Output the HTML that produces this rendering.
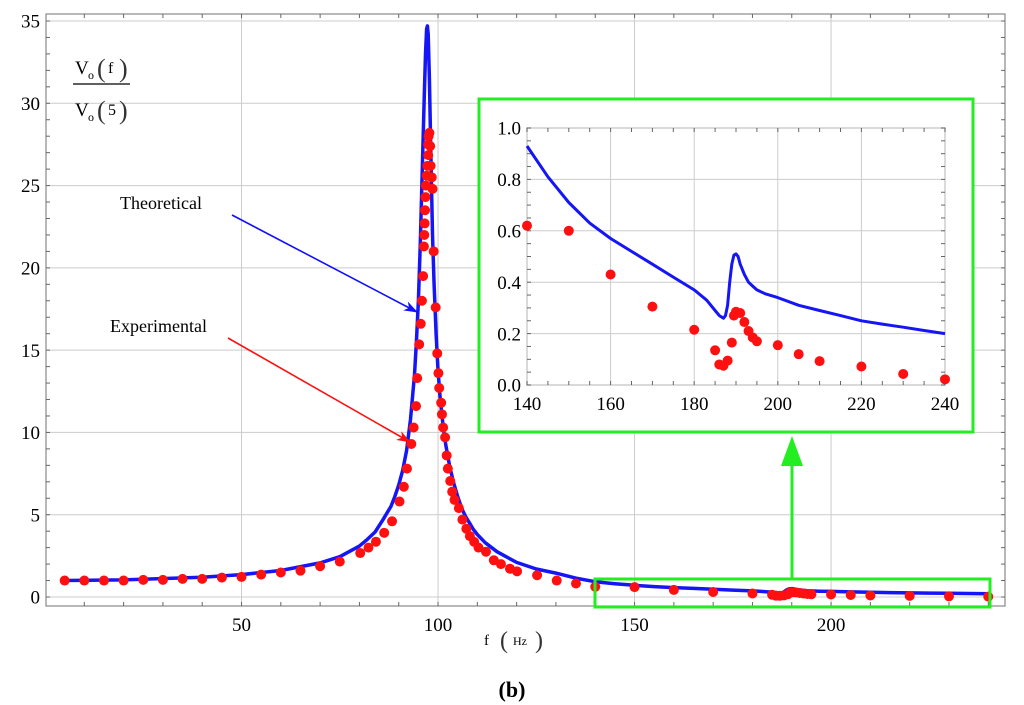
<!DOCTYPE html>
<html><head><meta charset="utf-8"><style>
body{margin:0;background:#fff}
svg{display:block;font-family:"Liberation Serif",serif}
</style></head><body>
<svg id="c" width="1024" height="705" viewBox="0 0 1024 705">
<defs>
<marker id="ab" markerWidth="14" markerHeight="10" refX="13" refY="5" orient="auto" markerUnits="userSpaceOnUse" viewBox="0 0 14 10"><path d="M0,0 L14,5 L0,10 L4,5z" fill="#1010ff"/></marker>
<marker id="ar" markerWidth="14" markerHeight="10" refX="13" refY="5" orient="auto" markerUnits="userSpaceOnUse" viewBox="0 0 14 10"><path d="M0,0 L14,5 L0,10 L4,5z" fill="#ff1010"/></marker>
</defs>
<g id="main"></g>
<g id="inset"></g>
<text x="120" y="209" font-size="18">Theoretical</text>
<line x1="232" y1="215" x2="417" y2="312" stroke="#1010ff" stroke-width="1.6" marker-end="url(#ab)"/>
<text x="110" y="332" font-size="18">Experimental</text>
<line x1="228" y1="338" x2="410" y2="442" stroke="#ff1010" stroke-width="1.6" marker-end="url(#ar)"/>
<g font-size="19">
<text x="75" y="74">V</text><text x="88" y="79" font-size="12">o</text><text x="97" y="77" font-size="26" fill="#333">(</text><text x="108" y="73" font-size="16">f</text><text x="119" y="77" font-size="26" fill="#333">)</text>
<line x1="73" y1="84" x2="130" y2="84" stroke="#000" stroke-width="1.3"/>
<text x="75" y="116">V</text><text x="88" y="121" font-size="12">o</text><text x="97" y="119" font-size="26" fill="#333">(</text><text x="108" y="115" font-size="16">5</text><text x="119" y="119" font-size="26" fill="#333">)</text>
</g>
<g>
<text x="484" y="645" font-size="15">f</text><text x="500" y="648" font-size="24" fill="#333">(</text><text x="513" y="645" font-size="12">Hz</text><text x="535" y="648" font-size="24" fill="#333">)</text>
</g>
<text x="512" y="697" font-size="22" font-weight="bold" text-anchor="middle">(b)</text>
<rect x="595" y="579" width="395" height="28" fill="none" stroke="#22ee22" stroke-width="3"/>
<line x1="792" y1="578" x2="792" y2="462" stroke="#22ee22" stroke-width="3"/>
<polygon points="792,436 781,466 803,466" fill="#22ee22"/>
</svg>
<script>
// Main chart data
const thF=[5,20,40,50,60,70,75,80,82,84,86,87,88,89,90,91,92,93,94,94.5,95,95.5,96,96.5,96.8,97.1,97.3,97.5,97.8,98.2,98.6,99,99.5,100,100.5,101,101.5,102,103,104,105,106,107,108,109,110,112,115,120,125,130,135,140,145,150,155,160,165,170,175,180,183,185,186,187,187.5,188,188.5,189,189.5,190,190.5,191,192,193,194,195,197,200,205,210,215,220,225,230,235,240];
const thV=[1.0,1.04,1.2,1.36,1.61,2.07,2.45,3.09,3.5,3.95,4.7,5.1,5.5,6.1,6.8,7.7,8.9,10.8,13.5,15.5,18,21.5,26,30.5,33,34.5,34.7,34.2,31.5,26.5,22,19,16,13.8,12.2,11,10,9.2,7.9,6.9,6.1,5.4,4.9,4.5,4.1,3.8,3.3,2.75,2.1,1.7,1.45,1.15,0.93,0.81,0.71,0.63,0.57,0.52,0.47,0.42,0.37,0.33,0.29,0.27,0.26,0.27,0.31,0.4,0.47,0.505,0.51,0.5,0.47,0.43,0.4,0.385,0.37,0.355,0.34,0.31,0.29,0.27,0.25,0.237,0.225,0.212,0.2];
const exF=[5,10,15,20,25,30,35,40,45,50,55,60,65,70,75,80.2,82.3,84.2,86.3,88.3,90.2,91.3,92.1,93.2,93.8,94.4,94.7,95.2,95.6,95.9,96.2,96.4,96.5,96.6,96.7,96.8,96.9,97.1,97.3,97.5,97.5,97.6,97.8,98.0,98.1,98.4,98.6,98.9,99.4,99.8,100.1,100.3,100.8,101,101.3,101.8,102.2,102.5,103.1,103.6,104.2,105.3,106.2,107.2,108.1,109.2,110.3,112.2,114.2,116,118.3,120.1,125.2,130.2,135.1,140,150,160,170,180,185,186,187,188,189,189.5,190,191,192,193,194,195,200,205,210,220,230,240];
const exV=[1.0,1.0,1.0,1.0,1.04,1.04,1.1,1.1,1.18,1.22,1.36,1.49,1.6,1.87,2.15,2.67,3.0,3.36,3.9,4.6,5.8,6.7,7.8,9.3,10.3,11.6,13.3,15.35,16.6,18.0,19.5,21.3,22.0,22.7,23.5,24.3,25.0,25.6,26.2,26.85,27.5,28.0,28.2,27.4,26.2,25.5,24.8,21.0,17.6,14.8,13.6,12.7,11.8,11.1,10.3,9.7,8.6,7.8,7.05,6.4,5.9,5.4,4.7,4.15,3.7,3.35,3.0,2.75,2.23,2.0,1.72,1.56,1.32,1.0,0.82,0.62,0.6,0.43,0.305,0.215,0.135,0.08,0.075,0.095,0.165,0.27,0.285,0.28,0.245,0.21,0.185,0.17,0.155,0.12,0.093,0.072,0.043,0.022,0.012];
const xTicks=[50,100,150,200];
const yTicks=[0,5,10,15,20,25,30,35];
const inXTicks=[140,160,180,200,220,240];
const inYTicks=[0,0.2,0.4,0.6,0.8,1.0];
const inYLabels=["0.0","0.2","0.4","0.6","0.8","1.0"];

const NS="http://www.w3.org/2000/svg";
function mk(p,t,a){const e=document.createElementNS(NS,t);for(const k in a)e.setAttribute(k,a[k]);p.appendChild(e);return e;}
function build(g,o){
  const X=v=>o.x0+(v-o.fmin)*(o.x1-o.x0)/(o.fmax-o.fmin);
  const Y=v=>o.y0+(v-o.vmin)*(o.y1-o.y0)/(o.vmax-o.vmin);
  mk(g,'rect',{x:o.L,y:o.T,width:o.R-o.L,height:o.B-o.T,fill:'#fff',stroke:'#888','stroke-width':1.2});
  for(let i=0;i<o.xt.length;i++){const l=mk(g,'line',{x1:X(o.xt[i]),x2:X(o.xt[i]),y1:o.T,y2:o.B,stroke:'#ccc','stroke-width':1});
    
    const t=mk(g,'text',{x:X(o.xt[i]),y:o.B+o.fs+6,'font-size':o.fs,'text-anchor':'middle'});t.textContent=o.xt[i];
    }
  for(let i=0;i<o.yt.length;i++){const y=Y(o.yt[i]);
    const l=mk(g,'line',{x1:o.L,x2:o.R,y1:y,y2:y,stroke:'#ccc','stroke-width':1});
    
    const t=mk(g,'text',{x:o.L-6,y:y+o.fs*0.35,'font-size':o.fs,'text-anchor':'end'});t.textContent=o.yl[i];
    }
  for(let v=o.fmin0;v<=o.fmax+0.01;v+=o.xm){mk(g,'line',{x1:X(v),x2:X(v),y1:o.B,y2:o.B-4,stroke:'#666'});mk(g,'line',{x1:X(v),x2:X(v),y1:o.T,y2:o.T+4,stroke:'#666'});}
  for(let v=o.vmin;v<=o.vmax+0.001;v+=o.ym){mk(g,'line',{x1:o.L,x2:o.L+4,y1:Y(v),y2:Y(v),stroke:'#666'});mk(g,'line',{x1:o.R,x2:o.R-4,y1:Y(v),y2:Y(v),stroke:'#666'});}
  let d='';thF.forEach((f,i)=>{if(f<o.fmin-0.01||f>o.fmax+0.01)return;d+=(d?'L':'M')+X(f).toFixed(1)+','+Y(thV[i]).toFixed(1);});
  const p=mk(g,'path',{d:d,fill:'none',stroke:'#1515f5','stroke-width':o.lw,'stroke-linejoin':'round'});
  
  exF.forEach((f,i)=>{if(f<o.fmin-0.01||f>o.fmax+0.01)return;
    const c=mk(g,'circle',{cx:X(f),cy:Y(exV[i]),r:o.r,fill:'#ff1010'});
    });
}
const gm=document.getElementById('main');

build(gm,{L:46,R:1005,T:14,B:606,x0:45,x1:1004,fmin:0,fmax:244,y0:597,y1:21,vmin:0,vmax:35,xt:xTicks,yt:yTicks,yl:yTicks.map(String),fs:19,xm:10,ym:1,fmin0:10,lw:3.5,r:5});
const gi=document.getElementById('inset');

mk(gi,'rect',{x:479,y:99,width:494,height:333,fill:'#fff',stroke:'#22ee22','stroke-width':3});
build(gi,{L:527,R:945,T:128,B:385,x0:527,x1:945,fmin:140,fmax:240,y0:385,y1:128,vmin:0,vmax:1.0,xt:inXTicks,yt:inYTicks,yl:inYLabels,fs:19,xm:5,ym:0.05,fmin0:140,lw:3,r:5});
</script>
</body></html>
